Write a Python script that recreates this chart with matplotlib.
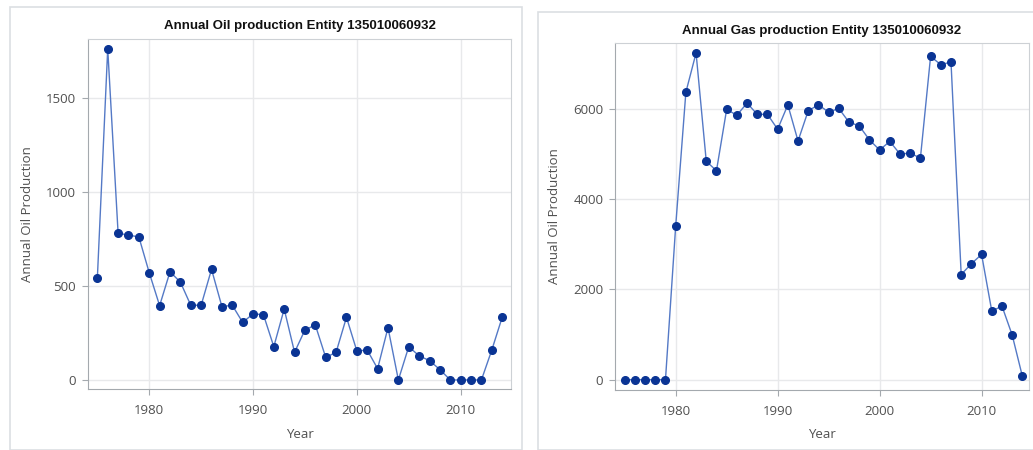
import matplotlib
matplotlib.use("Agg")
import matplotlib.pyplot as plt
from matplotlib.patches import Rectangle

W, H = 1033, 450

years = list(range(1975, 2015))

oil = [540, 1760, 780, 770, 760, 570, 395, 575, 520, 397,
       397, 588, 390, 397, 306, 351, 347, 177, 377, 147,
       266, 292, 120, 147, 333, 154, 159, 60, 278, 0,
       177, 128, 103, 55, 0, 0, 0, 0, 159, 333]

gas = [0, 0, 0, 0, 0, 3400, 6370, 7240, 4840, 4630,
       5990, 5860, 6130, 5880, 5880, 5550, 6090, 5290, 5960, 6090,
       5930, 6010, 5705, 5625, 5315, 5090, 5280, 5000, 5020, 4910,
       7165, 6980, 7040, 2330, 2570, 2775, 1520, 1630, 990, 75]

oil_title = "Annual Oil production Entity 135010060932"
gas_title = "Annual Gas production Entity 135010060932"
y_label = "Annual Oil Production"
x_label = "Year"

LINE_C = "#5479c6"
MARK_C = "#0a3494"
TEXT_C = "#505050"

plt.rcParams["font.family"] = ["Open Sans", "DejaVu Sans"]


def px_axes(fig, x0, y0, x1, y1):
    # pixel box (top-left origin) -> figure fraction
    return fig.add_axes([x0 / W, (H - y1) / H, (x1 - x0) / W, (y1 - y0) / H])


def style(ax, title, ticks_y, xlim, ylim, title_y, ylab_x, xlab_y):
    ax.set_xlim(*xlim)
    ax.set_ylim(*ylim)
    ax.set_xticks([1980, 1990, 2000, 2010])
    ax.set_yticks(ticks_y)
    ax.grid(True, color="#e8e9eb", linewidth=1.0)
    ax.set_axisbelow(True)
    for side in ["left", "bottom"]:
        ax.spines[side].set_color("#a4a9ae")
    for side in ["top", "right"]:
        ax.spines[side].set_color("#cdd1d5")
    ax.tick_params(colors="#a4a9ae", labelcolor=TEXT_C, labelsize=9.5,
                   length=4, width=0.8)
    ax.tick_params(axis="x", pad=6.5)
    ax.tick_params(axis="y", pad=4.5)
    ax.set_xlabel(x_label, fontsize=9.5, color=TEXT_C, va="center")
    ax.set_ylabel(y_label, fontsize=9.5, color=TEXT_C, va="center")
    ax.xaxis.set_label_coords(0.5, xlab_y)
    ax.yaxis.set_label_coords(ylab_x, 0.5)
    ax.text(0.5, title_y, title, transform=ax.transAxes, ha="center",
            va="center", fontsize=9.5, fontweight="bold", color="#111111",
            family=["Liberation Sans", "DejaVu Sans"])


fig = plt.figure(figsize=(W / 100, H / 100), dpi=100)
fig.patch.set_facecolor("white")

# panel frames
for x0, y0, x1 in [(10, 7, 522), (538, 12, 1040)]:
    fig.patches.append(Rectangle((x0 / W, 0), (x1 - x0) / W, (H - y0) / H,
                                 transform=fig.transFigure, fill=False,
                                 edgecolor="#dcdfe3", linewidth=1.2))

ax1 = px_axes(fig, 88, 39, 511, 389)
ax1.plot(years, oil, color=LINE_C, linewidth=1.0, marker="o", markersize=5.5,
         markerfacecolor=MARK_C, markeredgecolor=MARK_C)
style(ax1, oil_title, [0, 500, 1000, 1500], (1974.1, 2014.85), (-48, 1812),
      1.037, -0.144, -0.129)

ax2 = px_axes(fig, 615, 43, 1029, 390)
ax2.plot(years, gas, color=LINE_C, linewidth=1.0, marker="o", markersize=5.5,
         markerfacecolor=MARK_C, markeredgecolor=MARK_C)
style(ax2, gas_title, [0, 2000, 4000, 6000], (1974.05, 2014.65), (-229, 7461),
      1.035, -0.145, -0.127)

fig.savefig("out.png", dpi=100)
